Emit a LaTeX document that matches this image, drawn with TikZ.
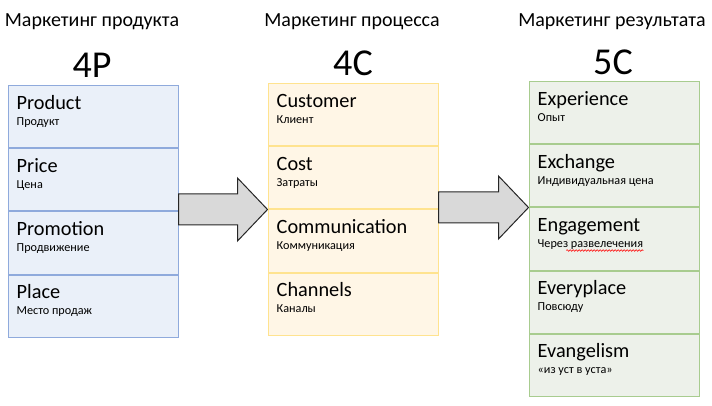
\documentclass[tikz,border=0pt]{standalone}
\usepackage{fontspec}
\setmainfont{Carlito}
\usetikzlibrary{positioning,calc,decorations.pathmorphing}

\definecolor{pfill}{HTML}{EAF0F9}
\definecolor{pline}{HTML}{8FAADC}
\definecolor{cfill}{HTML}{FFF6E6}
\definecolor{cline}{HTML}{FFE38F}
\definecolor{rfill}{HTML}{EDF1EA}
\definecolor{rline}{HTML}{A8CC8F}
\definecolor{afill}{HTML}{D9D9D9}

\tikzset{
  cell/.style={rectangle, minimum width=170pt, minimum height=62pt, inner sep=0pt, line width=1pt},
  pcell/.style={cell, draw=pline, fill=pfill},
  ccell/.style={cell, draw=cline, fill=cfill},
  rcell/.style={cell, draw=rline, fill=rfill},
  title/.style={font=\fontsize{20}{22}\selectfont},
  bignum/.style={font=\fontsize{38}{40}\selectfont},
  item/.style={anchor=base west, inner sep=0pt, font=\fontsize{20.3}{22}\selectfont},
  note/.style={anchor=base west, inner sep=0pt, font=\fontsize{12.2}{14}\selectfont},
  bigarrow/.style={draw=black!85, fill=afill, line width=1pt, line join=miter}
}

% english name and russian note inside one cell
\newcommand{\cellitem}[3]{%
  \node[item] (#1-en) at ([shift={(9,24)}]#1.north west) {#2};
  \node[note] (#1-ru) at ([shift={(9,40)}]#1.north west) {#3};
}
% block arrow from tail point to tip point
\newcommand{\blockarrow}[2]{%
  \draw[bigarrow] ($(#1)+(0,-15.5)$) -- ($(#2)+(-30,-15.5)$) -- ($(#2)+(-30,-31.5)$)
    -- (#2) -- ($(#2)+(-30,31.5)$) -- ($(#2)+(-30,15.5)$) -- ($(#1)+(0,15.5)$) -- cycle;
}

\begin{document}
\begin{tikzpicture}[x=1pt, y=-1pt, node distance=0pt]
  \useasboundingbox (0,0) rectangle (712,406);

  % product column
  \node[title] (ptitle) at (92,22) {Маркетинг продукта};
  \node[bignum] (pnum) at (92,65) {4P};
  \node[pcell] (prod) at (93,117) {};
  \node[pcell, below=of prod] (price) {};
  \node[pcell, below=of price] (promo) {};
  \node[pcell, below=of promo] (place) {};
  \cellitem{prod}{Product}{Продукт}
  \cellitem{price}{Price}{Цена}
  \cellitem{promo}{Promotion}{Продвижение}
  \cellitem{place}{Place}{Место продаж}

  % process column
  \node[title] (ctitle) at (352,22) {Маркетинг процесса};
  \node[bignum] (cnum) at (353,63) {4C};
  \node[ccell] (cust) at (353,115) {};
  \node[ccell, below=of cust] (cost) {};
  \node[ccell, below=of cost] (comm) {};
  \node[ccell, below=of comm] (chan) {};
  \cellitem{cust}{Customer}{Клиент}
  \cellitem{cost}{Cost}{Затраты}
  \cellitem{comm}{Communication}{Коммуникация}
  \cellitem{chan}{Channels}{Каналы}

  % result column
  \node[title] (rtitle) at (612,22) {Маркетинг результата};
  \node[bignum] (rnum) at (613,62) {5C};
  \node[rcell] (exper) at (614,113) {};
  \node[rcell, below=of exper] (exch) {};
  \node[rcell, below=of exch] (engage) {};
  \node[rcell, below=of engage] (every) {};
  \node[rcell, below=of every] (evang) {};
  \cellitem{exper}{Experience}{Опыт}
  \cellitem{exch}{Exchange}{Индивидуальная цена}
  \cellitem{engage}{Engagement}{Через развелечения}
  \cellitem{every}{Everyplace}{Повсюду}
  \cellitem{evang}{Evangelism}{«из уст в уста»}

  % spelling squiggle
  \draw[red, line width=0.6pt, decorate, decoration={snake, amplitude=0.8pt, segment length=3pt}]
    ($(engage-ru.base east)+(-77,3)$) -- ($(engage-ru.base east)+(0,3)$);

  % arrows
  \coordinate (a1tip) at (cost.south west);
  \coordinate (a1tail) at (price.east |- a1tip);
  \coordinate (a2tip) at (exch.south west);
  \coordinate (a2tail) at (cost.east |- a2tip);
  \blockarrow{a1tail}{a1tip}
  \blockarrow{a2tail}{a2tip}
\end{tikzpicture}
\end{document}
